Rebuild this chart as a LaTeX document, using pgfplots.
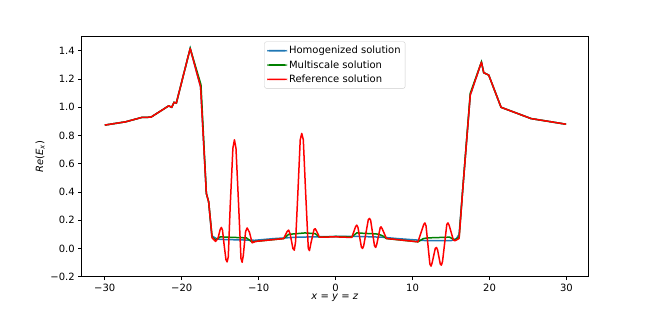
\documentclass[border=0pt]{standalone}
\usepackage{fontspec}
\setmainfont{DejaVu Sans}
\usepackage{pgfplots}
\pgfplotsset{compat=1.18}
\definecolor{mplblue}{HTML}{1F77B4}
\definecolor{mplgreen}{rgb}{0,0.5,0}
\begin{document}
\begin{tikzpicture}[x=1pt,y=1pt]
\useasboundingbox (0,0) rectangle (654,311);
\begin{axis}[
  at={(81.7pt,34.3pt)}, anchor=south west,
  scale only axis, width=506.3pt, height=240pt,
  xmin=-33, xmax=32.8, ymin=-0.2, ymax=1.5,
  axis line style={line width=0.8pt},
  tick align=outside, major tick length=3.5pt,
  every tick/.style={black, line width=0.8pt},
  xtick pos=bottom, ytick pos=left,
  xtick={-30,-20,-10,0,10,20,30},
  xticklabels={−30,−20,−10,0,10,20,30},
  ytick={-0.2,0,0.2,0.4,0.6,0.8,1.0,1.2,1.4},
  yticklabels={−0.2,0.0,0.2,0.4,0.6,0.8,1.0,1.2,1.4},
  tick label style={font=\fontsize{10}{12}\selectfont},
  xlabel={\textit{x} = \textit{y} = \textit{z}},
  ylabel={\textit{Re}(\textit{E}\textsubscript{\textit{x}})},
  every axis x label/.style={at={(axis description cs:0.5,0)}, yshift=-21.3pt, anchor=center},
  every axis y label/.style={at={(axis description cs:0,0.5)}, xshift=-41.7pt, rotate=90, anchor=center},
  legend style={at={(0.5,0.98)}, anchor=north, draw=black!20, rounded corners=2pt,
    fill=white, font=\fontsize{10}{12}\selectfont,
    row sep=1.2pt, inner sep=2.5pt},
  legend cell align=left,
  legend image code/.code={\path[draw=none] (0pt,-4pt) rectangle (20pt,4pt); \fill[#1, draw=none] (0pt,-0.8pt) rectangle (20pt,0.8pt);},
]
\addplot[mplblue, line width=1.5pt] coordinates {
(-30,0.874) (-27.3,0.897) (-25.2,0.928) (-24,0.93) (-21.7,1.01) (-21.3,1.0) (-21.0,1.035) (-20.7,1.03)
(-18.9,1.417) (-17.55,1.145) (-16.8,0.39) (-16.5,0.33) (-16.1,0.09) (-15.5,0.07) (-15,0.064)
(-12,0.06) (-10.5,0.058) (-8,0.07) (-5,0.08) (-2,0.083) (0,0.085) (3,0.085) (6,0.08) (8,0.07)
(11,0.058) (12,0.055) (15,0.055) (15.7,0.07) (16.05,0.1) (16.55,0.44)
(17.5,1.087) (18.95,1.32) (19.25,1.245) (19.9,1.228) (21.5,1.0) (25.4,0.92) (29.95,0.88)
};
\addlegendentry{Homogenized solution}
\addplot[mplgreen, line width=1.5pt] coordinates {
(-30,0.874) (-27.3,0.897) (-25.2,0.928) (-24,0.93) (-21.7,1.01) (-21.3,1.0) (-21.0,1.035) (-20.7,1.03)
(-18.9,1.417) (-17.5,1.16) (-16.8,0.39) (-16.5,0.33) (-16.05,0.08) (-15.6,0.06) (-15.0,0.082)
(-11.6,0.075) (-10.9,0.047) (-10.4,0.05) (-6.75,0.07) (-6.1,0.1) (-4,0.11) (-2.65,0.105)
(-2.1,0.08) (0,0.085) (2.1,0.082) (2.75,0.11) (5.5,0.102) (6.1,0.09) (6.6,0.07) (10.7,0.047)
(11.4,0.07) (12,0.075) (14.8,0.08) (15.5,0.06) (16.05,0.08) (16.55,0.44)
(17.5,1.1) (18.95,1.32) (19.25,1.245) (19.9,1.228) (21.5,1.0) (25.4,0.92) (29.95,0.88)
};
\addlegendentry{Multiscale solution}
\addplot[red, line width=1.5pt, line join=round] coordinates {
(-30,0.874) (-27.3,0.897) (-25.2,0.928) (-24,0.93) (-21.7,1.01) (-21.3,1.0) (-21.0,1.035) (-20.7,1.03)
(-18.9,1.417) (-17.55,1.145) (-16.8,0.39) (-16.5,0.33) (-16.05,0.075) (-15.6,0.05) (-15.3,0.07)
(-15.0,0.135) (-14.85,0.149) (-14.7,0.13) (-14.5,0.03) (-14.25,-0.08) (-14.1,-0.095) (-13.95,-0.06)
(-13.7,0.3) (-13.35,0.71) (-13.15,0.77) (-12.95,0.71) (-12.6,0.3) (-12.3,-0.07) (-12.15,-0.098)
(-12.0,-0.05) (-11.7,0.12) (-11.5,0.145) (-11.2,0.115) (-10.85,0.04) (-10.4,0.05) (-6.75,0.07)
(-6.3,0.12) (-6.1,0.13) (-5.9,0.1) (-5.55,0.0) (-5.37,-0.012) (-5.2,0.05) (-4.9,0.4) (-4.6,0.77)
(-4.4,0.815) (-4.2,0.77) (-3.9,0.4) (-3.55,0.0) (-3.4,-0.015) (-3.2,0.04) (-2.8,0.135) (-2.65,0.14)
(-2.45,0.12) (-2.1,0.08) (0,0.082) (2.1,0.078)
(2.6,0.155) (2.75,0.165) (2.9,0.15) (3.35,0.01) (3.5,0.0) (3.65,0.02) (4.25,0.205) (4.4,0.213)
(4.55,0.2) (5.05,0.02) (5.2,0.007) (5.35,0.03) (5.8,0.148) (5.9,0.153) (6.05,0.14) (6.6,0.071)
(10.7,0.047) (11.45,0.17) (11.6,0.181) (11.75,0.16) (12.25,-0.11) (12.4,-0.125) (12.55,-0.1)
(12.95,0.0) (13.1,0.007) (13.25,-0.01) (13.6,-0.11) (13.75,-0.118) (13.9,-0.09) (14.45,0.17)
(14.6,0.181) (14.75,0.165) (15.3,0.06) (15.5,0.054) (16.05,0.071) (16.55,0.437)
(17.5,1.087) (18.95,1.32) (19.25,1.245) (19.9,1.228) (21.5,1.0) (25.4,0.92) (29.95,0.88)
};
\addlegendentry{Reference solution}
\end{axis}
\end{tikzpicture}
\end{document}
